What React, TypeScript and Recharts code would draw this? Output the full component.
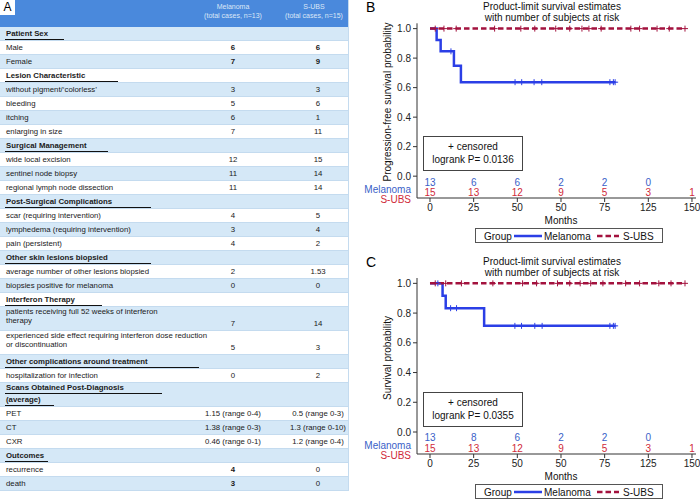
import React from 'react';
import { ComposedChart, Line, Scatter, XAxis, YAxis } from 'recharts';

const FONT = '"Liberation Sans", Arial, Helvetica, sans-serif';

// ---------- panel A: table ----------
const groupNames = ['Melanoma', 'S-UBS'];
const groupTotals = [13, 15];

const tableRows: [string, string, string, 'head' | 'item'][] = [
  ['Patient Sex', '', '', 'head'],
  ['Male', '6', '6', 'item'],
  ['Female', '7', '9', 'item'],
  ['Lesion Characteristic', '', '', 'head'],
  ['without pigment/\u2018colorless\u2019', '3', '3', 'item'],
  ['bleeding', '5', '6', 'item'],
  ['itching', '6', '1', 'item'],
  ['enlarging in size', '7', '11', 'item'],
  ['Surgical Management', '', '', 'head'],
  ['wide local excision', '12', '15', 'item'],
  ['sentinel node biopsy', '11', '14', 'item'],
  ['regional lymph node dissection', '11', '14', 'item'],
  ['Post-Surgical Complications', '', '', 'head'],
  ['scar (requiring intervention)', '4', '5', 'item'],
  ['lymphedema (requiring intervention)', '3', '4', 'item'],
  ['pain (persistent)', '4', '2', 'item'],
  ['Other skin lesions biopsied', '', '', 'head'],
  ['average number of other lesions biopsied', '2', '1.53', 'item'],
  ['biopsies positive for melanoma', '0', '0', 'item'],
  ['Interferon Therapy', '', '', 'head'],
  ['patients receiving full 52 weeks of interferon\ntherapy', '7', '14', 'item'],
  ['experienced side effect requiring interferon dose reduction\nor discontinuation', '5', '3', 'item'],
  ['Other complications around treatment', '', '', 'head'],
  ['hospitalization for infection', '0', '2', 'item'],
  ['Scans Obtained Post-Diagnosis\n(average)', '', '', 'head'],
  ['PET', '1.15 (range 0-4)', '0.5 (range 0-3)', 'item'],
  ['CT', '1.38 (range 0-3)', '1.3 (range 0-10)', 'item'],
  ['CXR', '0.46 (range 0-1)', '1.2 (range 0-4)', 'item'],
  ['Outcomes', '', '', 'head'],
  ['recurrence', '4', '0', 'item'],
  ['death', '3', '0', 'item'],
];
const boldCells = ['Male:0', 'Male:1', 'Female:0', 'Female:1', 'recurrence:0', 'death:0'];

// ---------- panels B / C: Kaplan-Meier ----------
const riskTimes = [0, 25, 50, 75, 100, 125, 150];
const tickLabels = ['0', '25', '50', '50', '75', '125', '150'];
const yTicks = [0, 0.2, 0.4, 0.6, 0.8, 1.0];

// B: progression-free survival
const pfsMelTimes = [0, 3.8, 6.1, 13.7, 17.7, 106];
const pfsMelSurv = [1, 0.923, 0.846, 0.748, 0.637, 0.637];
const pfsMelCensored = [12, 48.7, 52.5, 59.6, 64, 103, 105, 106];
const pfsMelRisk = [13, 6, 6, 2, 2, 0];
const pfsSubsTimes = [0, 146];
const pfsSubsSurv = [1, 1];
const pfsSubsCensored = [3, 8, 15, 37, 52, 60, 72, 80, 87, 91, 98, 115, 120, 130, 137, 146];
const pfsSubsRisk = [15, 13, 12, 9, 5, 3, 1];

// C: overall survival
const osMelTimes = [0, 7.2, 9, 31, 106];
const osMelSurv = [1, 0.917, 0.833, 0.714, 0.714];
const osMelCensored = [4.5, 11.8, 15.2, 48.6, 52.4, 60, 64.2, 103, 105, 106];
const osMelRisk = [13, 8, 6, 2, 2, 0];
const osSubsTimes = [0, 146];
const osSubsSurv = [1, 1];
const osSubsCensored = [3, 9, 18, 36, 53, 61, 73, 80, 86, 92, 99, 112, 120, 131, 138, 146];
const osSubsRisk = [15, 13, 12, 9, 5, 3, 1];

const MEL_BLUE = '#2b3fe6';
const SUBS_RED = '#a3123e';
const RISK_BLUE = '#3a5fc8';
const RISK_RED = '#d02a3a';

const X_MIN = -7.44;
const X_MAX = 152.3;
const Y_MIN = -0.148;
const Y_MAX = 1.036;
const PANEL_W = 345;
const AXIS_W = 62;
const PLOT_RIGHT = 4;
const X_AXIS_H = 28;

const steps = (ts: number[], ss: number[]) => ts.map((t, i) => ({ t, s: ss[i] }));
const survAt = (ts: number[], ss: number[], t: number) => {
  let s = ss[0];
  ts.forEach((tt, i) => {
    if (tt <= t) s = ss[i];
  });
  return s;
};
const marks = (ts: number[], ss: number[], cs: number[]) => cs.map((t) => ({ t, s: survAt(ts, ss, t) }));
const riskRow = (ns: number[], level: number) => ns.map((n, i) => ({ t: riskTimes[i], y: level, n }));

const plus = (color: string) => (p: any) => (
  <path d={`M${p.cx - 3},${p.cy}h6M${p.cx},${p.cy - 3}v6`} stroke={color} strokeWidth={1} fill="none" />
);
const riskText = (color: string) => (p: any) => (
  <text x={p.cx} y={p.cy} textAnchor="middle" dominantBaseline="central" fontSize={10} fill={color} fontFamily={FONT}>
    {p.payload.n}
  </text>
);

const COL_X = [233, 318];
const HEAD_X = [233, 314];
const TFONT = 7.8;

function DataTable() {
  let y = 27;
  const rows = tableRows.map(([label, mel, subs, kind], i) => {
    const lines = label.split('\n');
    const h = lines.length > 1 ? 24 : 14;
    const top = y;
    y += h;
    const bg = i % 2 === 0 ? '#d5e8f7' : '#ffffff';
    const head = kind === 'head';
    const cells = [mel, subs];
    return (
      <div
        key={i}
        style={{ position: 'absolute', left: 0, top, width: 348, height: h, background: bg, borderBottom: '1px solid #c4dbef', boxSizing: 'border-box' }}
      >
        {lines.map((ln, j) => {
          const center = lines.length === 1 ? 7 : head ? 5.3 + j * 11.7 : 5.3 + j * 8.5;
          return (
            <React.Fragment key={j}>
              <div
                style={{ position: 'absolute', left: 6, top: center - 5, height: 10, lineHeight: '10px', fontSize: TFONT, fontWeight: head ? 'bold' : 'normal', color: '#1a1a1a', whiteSpace: 'nowrap' }}
              >
                {ln}
              </div>
              {head && (
                <div style={{ position: 'absolute', left: 5, top: center + 4.6, width: ln.length * 5.4, height: 1.3, background: '#111' }} />
              )}
            </React.Fragment>
          );
        })}
        {cells.map((v, k) => (
          <div
            key={k}
            style={{
              position: 'absolute',
              left: COL_X[k] - 40,
              width: 80,
              top: lines.length > 1 ? 11.5 : 2,
              height: 10,
              lineHeight: '10px',
              textAlign: 'center',
              fontSize: TFONT,
              color: '#1a1a1a',
              fontWeight: boldCells.includes(`${label}:${k}`) ? 'bold' : 'normal',
            }}
          >
            {v}
          </div>
        ))}
      </div>
    );
  });
  return (
    <div style={{ position: 'absolute', left: 0, top: 0, width: 348, height: y, borderRight: '1px solid #c4dbef' }}>
      <div style={{ position: 'absolute', left: 0, top: 0, width: 348, height: 27, background: '#4a89dc', overflow: 'hidden' }}>
        {groupNames.map((g, k) => (
          <div
            key={g}
            style={{ position: 'absolute', left: HEAD_X[k] - 40, width: 80, top: 1.5, textAlign: 'center', fontSize: 7, lineHeight: '9px', color: '#dbe7f7', whiteSpace: 'nowrap' }}
          >
            {g}
            <br />
            {`(total cases, n=${groupTotals[k]})`}
          </div>
        ))}
        <div style={{ position: 'absolute', left: 0, top: 0, width: 15, height: 15, background: '#fff', fontSize: 12, lineHeight: '15px', textAlign: 'center', color: '#000' }}>
          A
        </div>
      </div>
      {rows}
    </div>
  );
}

type KmProps = {
  top: number;
  letter: string;
  yLabel: string;
  pValue: string;
  plotTop: number;
  plotBottom: number;
  melTimes: number[];
  melSurv: number[];
  melCensored: number[];
  melRisk: number[];
  subsTimes: number[];
  subsSurv: number[];
  subsCensored: number[];
  subsRisk: number[];
};

function KmPanel(p: KmProps) {
  const chartH = p.plotBottom + X_AXIS_H + 2;
  const yPix = (v: number) => p.plotTop + ((Y_MAX - v) / (Y_MAX - Y_MIN)) * (p.plotBottom - p.plotTop);
  const xPix = (v: number) => AXIS_W + ((v - X_MIN) / (X_MAX - X_MIN)) * (PANEL_W - AXIS_W - PLOT_RIGHT);
  const txt: React.CSSProperties = { position: 'absolute', fontSize: 10, lineHeight: '11px', whiteSpace: 'nowrap', color: '#111' };

  return (
    <div style={{ position: 'absolute', left: 355, top: p.top, width: PANEL_W, height: 250 }}>
      <ComposedChart
        width={PANEL_W}
        height={chartH}
        margin={{ top: p.plotTop, right: PLOT_RIGHT, bottom: chartH - p.plotBottom - X_AXIS_H, left: 0 }}
      >
        <XAxis
          dataKey="t"
          type="number"
          domain={[X_MIN, X_MAX]}
          allowDataOverflow
          ticks={riskTimes}
          tickFormatter={(v: number) => tickLabels[riskTimes.indexOf(v)]}
          height={X_AXIS_H}
          tickSize={4}
          tickMargin={2}
          stroke="#333"
          tick={{ fill: '#222', fontSize: 10, fontFamily: FONT }}
        />
        <XAxis xAxisId="top" orientation="top" type="number" domain={[X_MIN, X_MAX]} allowDataOverflow tick={false} tickLine={false} height={0} stroke="#333" />
        <YAxis
          type="number"
          domain={[Y_MIN, Y_MAX]}
          allowDataOverflow
          ticks={yTicks}
          tickFormatter={(v: number) => v.toFixed(1)}
          width={AXIS_W}
          tickSize={4}
          tickMargin={2}
          stroke="#333"
          tick={{ fill: '#222', fontSize: 10, fontFamily: FONT }}
        />
        <YAxis yAxisId="right" orientation="right" type="number" domain={[Y_MIN, Y_MAX]} allowDataOverflow tick={false} tickLine={false} width={0} stroke="#333" />

        <Line data={steps(p.melTimes, p.melSurv)} dataKey="s" type="stepAfter" stroke={MEL_BLUE} strokeWidth={2.5} dot={false} activeDot={false} isAnimationActive={false} />
        <Scatter data={marks(p.melTimes, p.melSurv, p.melCensored)} dataKey="s" shape={plus(MEL_BLUE)} isAnimationActive={false} />
        <Line data={steps(p.subsTimes, p.subsSurv)} dataKey="s" type="stepAfter" stroke={SUBS_RED} strokeWidth={2.5} strokeDasharray="5.5 3" dot={false} activeDot={false} isAnimationActive={false} />
        <Scatter data={marks(p.subsTimes, p.subsSurv, p.subsCensored)} dataKey="s" shape={plus(SUBS_RED)} isAnimationActive={false} />

        <Scatter data={riskRow(p.melRisk, -0.04)} dataKey="y" shape={riskText(RISK_BLUE)} isAnimationActive={false} />
        <Scatter data={riskRow(p.subsRisk, -0.11)} dataKey="y" shape={riskText(RISK_RED)} isAnimationActive={false} />
      </ComposedChart>

      {/* panel letter and title */}
      <div style={{ ...txt, left: 11, top: p.plotTop - 24.5, fontSize: 14, lineHeight: '16px', color: '#000' }}>{p.letter}</div>
      <div style={{ ...txt, left: 197 - 100, width: 200, top: p.plotTop - 22.5, textAlign: 'center' }}>
        Product-limit survival estimates
        <br />
        with number of subjects at risk
      </div>

      {/* axis titles */}
      <div style={{ ...txt, left: 32, top: yPix(0.5), transform: 'translate(-50%, -50%) rotate(-90deg)' }}>{p.yLabel}</div>
      <div style={{ ...txt, left: xPix(75), top: p.plotBottom + 22, transform: 'translate(-50%, -50%)' }}>Months</div>

      {/* at-risk row labels */}
      <div style={{ ...txt, right: PANEL_W - 56, top: yPix(-0.09) - 5.5, color: RISK_BLUE }}>Melanoma</div>
      <div style={{ ...txt, right: PANEL_W - 56, top: yPix(-0.16) - 5.5, color: RISK_RED }}>S-UBS</div>

      {/* inset */}
      <div
        style={{
          position: 'absolute',
          left: 68,
          width: 100,
          top: yPix(0.27),
          height: yPix(0.032) - yPix(0.27),
          border: '1px solid #444',
          boxSizing: 'border-box',
          background: '#fff',
          fontSize: 10,
          lineHeight: '12.5px',
          textAlign: 'center',
          display: 'flex',
          flexDirection: 'column',
          justifyContent: 'center',
          color: '#111',
          whiteSpace: 'nowrap',
        }}
      >
        <div>+ censored</div>
        <div>logrank P= {p.pValue}</div>
      </div>

      {/* legend */}
      <div
        style={{ position: 'absolute', left: 120, top: p.plotBottom + 30, width: 188, height: 15, border: '1px solid #555', boxSizing: 'border-box', background: '#fff' }}
      >
        <div style={{ ...txt, left: 8, top: 1.5 }}>Group</div>
        <svg style={{ position: 'absolute', left: 38, top: 4 }} width={28} height={6}>
          <line x1={0} y1={3} x2={28} y2={3} stroke={MEL_BLUE} strokeWidth={2.5} />
        </svg>
        <div style={{ ...txt, left: 68, top: 1.5 }}>Melanoma</div>
        <svg style={{ position: 'absolute', left: 121, top: 4 }} width={22} height={6}>
          <line x1={0} y1={3} x2={22} y2={3} stroke={SUBS_RED} strokeWidth={2.5} strokeDasharray="5.5 3" />
        </svg>
        <div style={{ ...txt, left: 147, top: 1.5 }}>S-UBS</div>
      </div>
    </div>
  );
}

export default function App() {
  return (
    <div style={{ position: 'absolute', left: 0, top: 0, width: 700, height: 500, background: '#fff', fontFamily: FONT, overflow: 'hidden' }}>
      <DataTable />
      <KmPanel
        top={0}
        letter="B"
        yLabel="Progression-free survival probability"
        pValue="0.0136"
        plotTop={23.3}
        plotBottom={198}
        melTimes={pfsMelTimes}
        melSurv={pfsMelSurv}
        melCensored={pfsMelCensored}
        melRisk={pfsMelRisk}
        subsTimes={pfsSubsTimes}
        subsSurv={pfsSubsSurv}
        subsCensored={pfsSubsCensored}
        subsRisk={pfsSubsRisk}
      />
      <KmPanel
        top={250}
        letter="C"
        yLabel="Survival probability"
        pValue="0.0355"
        plotTop={28}
        plotBottom={204}
        melTimes={osMelTimes}
        melSurv={osMelSurv}
        melCensored={osMelCensored}
        melRisk={osMelRisk}
        subsTimes={osSubsTimes}
        subsSurv={osSubsSurv}
        subsCensored={osSubsCensored}
        subsRisk={osSubsRisk}
      />
    </div>
  );
}
